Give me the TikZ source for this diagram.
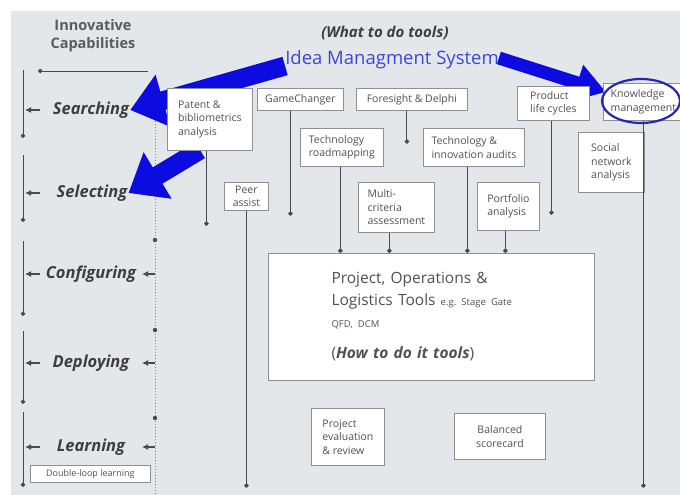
\documentclass[tikz,border=0pt]{standalone}
\usepackage{fontspec}
\setmainfont{Open Sans}
\definecolor{panel}{RGB}{228,231,234}
\definecolor{ink}{RGB}{62,62,64}
\definecolor{boxgray}{RGB}{140,143,147}
\definecolor{linegray}{RGB}{72,74,77}
\definecolor{ideablue}{RGB}{58,72,215}
\definecolor{bigblue}{RGB}{12,12,225}
\definecolor{ringblue}{RGB}{38,38,185}
\usetikzlibrary{arrows.meta, calc}
\tikzset{
	tool/.style={rectangle, draw=boxgray, fill=white, line width=0.8pt, align=left, text=ink!90, font=\fontsize{10.5}{13.5}\selectfont, inner sep=2pt, anchor=north west},
	ctool/.style={tool, align=center},
	phase/.style={font=\fontsize{16.5}{18}\selectfont\bfseries\itshape, text=ink, inner sep=1pt},
	stem/.style={draw=linegray, line width=0.9pt, -{Circle[length=4.5pt]}},
	tick/.style={draw=linegray, line width=1.2pt, -{Latex[length=6pt, width=6pt]}},
	dotline/.style={draw=linegray!70, line width=1pt, dotted},
	bigarrow/.style={draw=bigblue, line width=19pt, -{Triangle[length=34pt, width=52pt]}},
}
\begin{document}
\begin{tikzpicture}[x=1pt, y=-1pt]
	\useasboundingbox (0,0) rectangle (680,495);
	\clip (0,0) rectangle (680,495);
	\fill[white] (0,0) rectangle (680,495);
	\fill[panel] (11,11) rectangle (680,495);

	% left column: capabilities
	\node[font=\fontsize{14.5}{18}\selectfont\bfseries, text=ink!85, align=center] (innov) at (93,36) {Innovative\\Capabilities};
	\coordinate (capR) at (148,71);
	\coordinate (capL) at (38,71);
	\coordinate (L) at (23,0);
	\coordinate (R) at (155,0);
	\draw[stem] (capR) -- (capL);
	\foreach \a/\b in {70/138, 155/222, 241/316, 331/404, 412/487}
		\draw[stem] (23,\a) -- (23,\b);
	\draw[dotline] (155,100) -- (155,495);
	\foreach \y in {240, 330, 418}
		\fill[linegray] (155,\y) circle (2.2);

	\node[phase] (searching) at (91,110) {Searching};
	\node[phase] (selecting) at (92,193) {Selecting};
	\node[phase] (configuring) at (91,274) {Configuring};
	\node[phase] (deploying) at (91,363) {Deploying};
	\node[phase] (learning) at (91,447) {Learning};
	\foreach \n in {searching, selecting, configuring, deploying, learning} {
		\draw[tick] ($(\n -| L)+(17,0)$) -- ($(\n -| L)+(2,0)$);
		\draw[tick] (\n -| R) -- ++(-13,0);
	}
	\node[ctool, font=\fontsize{9}{10}\selectfont, minimum width=120, minimum height=17, line width=0.6pt] (dll) at (30,465) {Double-loop learning};

	% titles
	\node[font=\fontsize{15}{18}\selectfont\bfseries\itshape, text=ink] (what) at (385,33) {(What to do tools)};
	\node[font=\fontsize{18.5}{22}\selectfont, text=ideablue, inner sep=2pt] (ims) at (392,60) {Idea Managment System};

	% blue arrows (behind the boxes)
	\draw[bigarrow] ($(ims.west)+(2,6)$) -- (searching.east);
	\draw[bigarrow] (200,150) -- (selecting.east);
	\draw[bigarrow, line width=13pt, -{Triangle[length=30pt, width=36pt]}] ($(ims.east)+(-2,-2)$) -- (606,92);

	% what to do tools
	\node[tool, minimum width=85, minimum height=62] (patent) at (167,88) {Patent \&\\bibliometrics\\analysis};
	\node[ctool, minimum width=86, minimum height=22] (game) at (257,88) {GameChanger};
	\node[ctool, minimum width=111, minimum height=22] (foresight) at (356,88) {Foresight \& Delphi};
	\node[tool, minimum width=72, minimum height=34] (product) at (517,86) {Product\\life cycles};
	\node[tool, minimum width=80, minimum height=37] (km) at (603,83) {Knowledge\\management};
	\node[tool, minimum width=83, minimum height=38] (roadmap) at (300,128) {Technology\\roadmapping};
	\node[tool, minimum width=101, minimum height=38] (audits) at (423,128) {Technology \&\\innovation audits};
	\node[tool, minimum width=66, minimum height=60] (social) at (578,132) {Social\\network\\analysis};
	\node[ctool, minimum width=44, minimum height=28] (peer) at (224,182) {Peer\\assist};
	\node[tool, minimum width=76, minimum height=50] (multi) at (358,182) {Multi-\\criteria\\assessment};
	\node[tool, minimum width=62, minimum height=48] (portfolio) at (477,182) {Portfolio\\analysis};
	\draw[ringblue, line width=2.2pt] (641,101) ellipse (39 and 22);

	% how to do tools
	\node[tool, minimum width=326, minimum height=127, text width=200, inner xsep=63, font=\fontsize{15.5}{22}\selectfont, line width=1pt] (tools) at (268,253)
		{Project, Operations \&\\Logistics Tools {\fontsize{9.5}{11}\selectfont e.g.\ Stage Gate}\\{\fontsize{9.5}{11}\selectfont QFD, DCM}\\[9pt]({\bfseries\itshape How to do it tools})};
	\node[tool, minimum width=73, minimum height=57] (review) at (311,408) {Project\\evaluation\\\& review};
	\node[ctool, minimum width=91, minimum height=46] (scorecard) at (454,413) {Balanced\\scorecard};

	% stems
	\draw[stem] ([xshift=-3.5pt]patent.south) -- ++(0,75);
	\draw[stem] ([xshift=-10pt]game.south) -- ++(0,105);
	\draw[stem] ([xshift=-5pt]foresight.south) -- ++(0,33);
	\draw[stem] ([xshift=-2pt]product.south) -- ++(0,94);
	\draw[stem] (km.south) -- ++(0,367);
	\draw[stem] (peer.south) -- ++(0,277);
	\draw[stem] ([xshift=-1.5pt]roadmap.south) -- ([xshift=-1.5pt]roadmap.south |- tools.north);
	\draw[stem] ([xshift=-7pt]multi.south) -- ([xshift=-7pt]multi.south |- tools.north);
	\draw[stem] ([xshift=-6.5pt]audits.south) -- ([xshift=-6.5pt]audits.south |- tools.north);
	\draw[stem] ([xshift=-3pt]portfolio.south) -- ([xshift=-3pt]portfolio.south |- tools.north);
\end{tikzpicture}
\end{document}
